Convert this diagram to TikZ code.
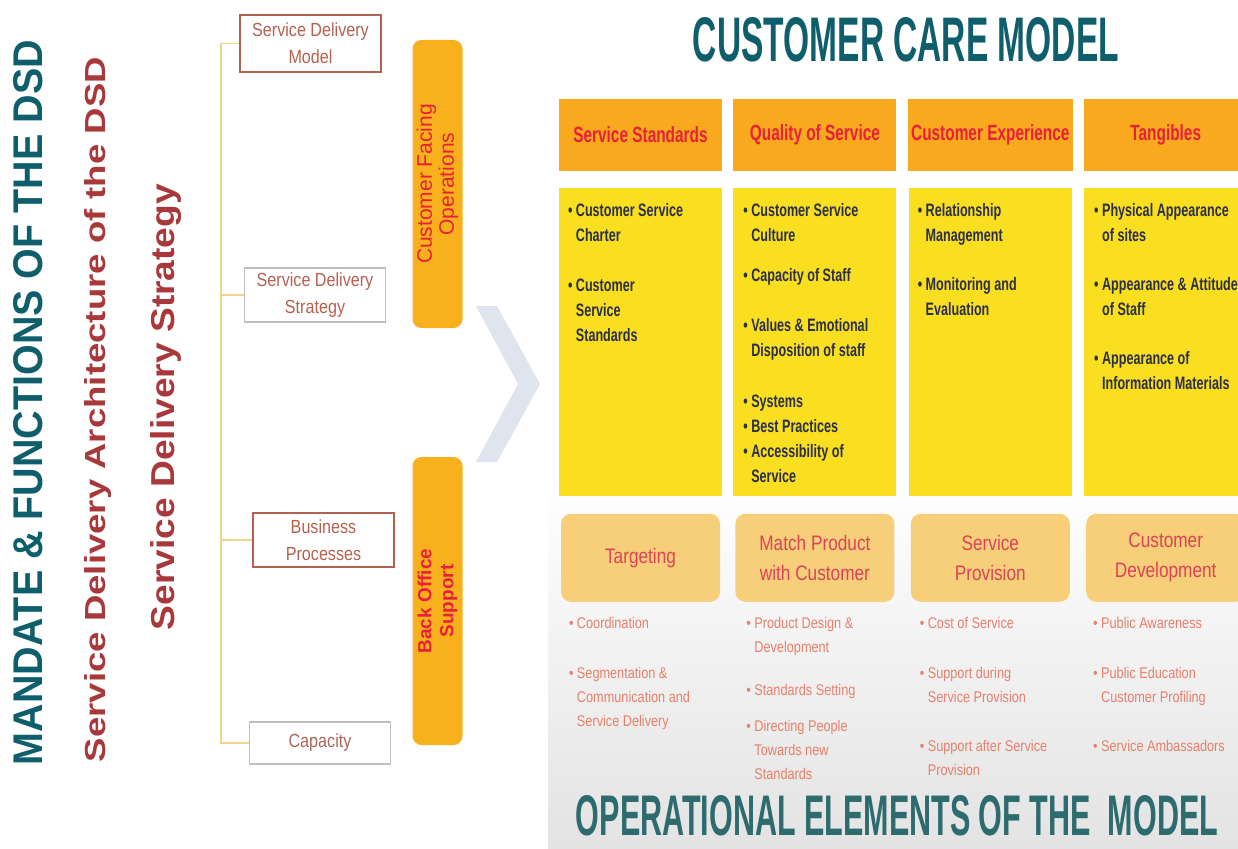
\documentclass[tikz,border=0pt]{standalone}
\usepackage{fontspec}
\setmainfont{Liberation Sans}
\newfontfamily\narrowfont[FakeStretch=0.7]{Liberation Sans}
\newfontfamily\opfont[FakeStretch=0.82]{Liberation Sans}
\newfontfamily\boxfont[FakeStretch=0.85]{Liberation Sans}
\usetikzlibrary{positioning}
\definecolor{titleteal}{HTML}{0F5E6B}
\definecolor{opteal}{HTML}{2E6B6E}
\definecolor{archred}{HTML}{A8383A}
\definecolor{hdorange}{HTML}{F8A91E}
\definecolor{bodyyellow}{HTML}{F9DF20}
\definecolor{opsand}{HTML}{F7CE79}
\definecolor{hdred}{HTML}{E8203A}
\definecolor{opred}{HTML}{DC4358}
\definecolor{opsalmon}{HTML}{E8806A}
\definecolor{itemnavy}{HTML}{2B2F4A}
\definecolor{sdbrown}{HTML}{B5614F}
\definecolor{barorange}{HTML}{F8B01C}
\definecolor{treeyellow}{HTML}{EFD58A}
\definecolor{chevgray}{HTML}{DFE4EE}
\newcommand{\bl}{\textbullet\ }
\newcommand{\ind}{\hphantom{\textbullet\ }}

\begin{document}
\begin{tikzpicture}[x=1pt, y=-1pt,
    node distance=17pt and 11pt,
    hdbox/.style={rectangle, fill=hdorange, minimum width=163pt, minimum height=72pt,
                  text=hdred, font=\narrowfont\bfseries\fontsize{22}{24}\selectfont},
    bodybox/.style={rectangle, fill=bodyyellow, minimum width=163pt, minimum height=308pt},
    opbox/.style={rectangle, rounded corners=10pt, fill=opsand, minimum width=159pt,
                  minimum height=88pt, text=opred, align=center,
                  font=\opfont\fontsize{21}{30}\selectfont},
    items/.style={anchor=north west, inner sep=0pt, align=left, text=itemnavy,
                  font=\narrowfont\bfseries\fontsize{18}{25}\selectfont},
    opitems/.style={anchor=north west, inner sep=0pt, align=left, text=opsalmon,
                  font=\opfont\fontsize{15.5}{24}\selectfont},
    sdbox/.style={rectangle, draw=sdbrown, line width=1.2pt, fill=white, text=sdbrown,
                  align=center, minimum width=141pt, inner sep=2pt,
                  font=\boxfont\fontsize{19}{27}\selectfont},
    bar/.style={rectangle, rounded corners=9pt, fill=barorange, minimum width=288pt,
                minimum height=50pt, text=hdred, align=center, rotate=90},
    treeline/.style={treeyellow, line width=1.5pt}
]
    \useasboundingbox (0,0) rectangle (1238,848);
    \fill[white] (0,0) rectangle (1238,848);
    \shade[top color=white, bottom color=gray!22] (548,480) rectangle (1238,848);

    % side titles
    \node[rotate=90, inner sep=0pt, text=titleteal] (mandate) at (28.5,402.5)
        {\resizebox{725pt}{29pt}{\bfseries MANDATE \& FUNCTIONS OF THE DSD}};
    \node[rotate=90, inner sep=0pt, text=archred] (sdarch) at (98.5,409.5)
        {\resizebox*{705pt}{27pt}{\bfseries Service Delivery Architecture of the DSD}};
    \node[rotate=90, inner sep=0pt, text=archred] (sdstrat) at (166.5,407)
        {\resizebox*{446pt}{31pt}{\bfseries Service Delivery Strategy}};

    % delivery tree
    \node[sdbox, minimum height=57pt] (sdm) at (310.5,43.5) {Service Delivery\\Model};
    \node[sdbox, draw=gray!50, minimum height=54pt] (sds) at (315,295) {Service Delivery\\Strategy};
    \node[sdbox, minimum height=54pt] (bp) at (323.5,540) {Business\\Processes};
    \node[sdbox, draw=gray!50, minimum height=42pt, text=sdbrown!80!gray] (cap) at (320,743) {Capacity};
    \coordinate (spine) at (221,0);
    \draw[treeline] (sdm.west) -- (sdm.west -| spine) -- (cap.west -| spine) -- (cap.west);
    \draw[treeline] (sds.west -| spine) -- (sds.west);
    \draw[treeline] (bp.west -| spine) -- (bp.west);

    \node[bar, font=\fontsize{21}{22}\selectfont] (cfo) at (437.5,184) {Customer Facing\\Operations};
    \node[bar, font=\bfseries\fontsize{19}{22}\selectfont] (bos) at (437.5,601) {Back Office\\Support};

    % chevron
    \fill[chevgray] (476,306) -- (497,306) -- (540,384) -- (497,462) -- (476,462) -- (518,384) -- cycle;

    \node[inner sep=0pt, text=titleteal] (cctitle) at (906,40)
        {\resizebox{426pt}{44pt}{\bfseries CUSTOMER CARE MODEL}};

    % model columns
    \node[hdbox] (hstd) at (640.5,135) {Service Standards};
    \node[hdbox, right=of hstd] (hqual) {Quality of Service};
    \node[hdbox, right=of hqual] (hexp) {Customer Experience};
    \node[hdbox, right=of hexp] (htang) {Tangibles};

    \node[bodybox, below=of hstd] (bstd) {};
    \node[bodybox, below=of hqual] (bqual) {};
    \node[bodybox, below=of hexp] (bexp) {};
    \node[bodybox, below=of htang] (btang) {};

    \node[items] (istd) at ([xshift=9pt, yshift=-15pt]bstd.north west)
        {\bl Customer Service\\ \ind Charter\\[25pt]
         \bl Customer\\ \ind Service\\ \ind Standards};
    \node[items] (iqual) at ([xshift=10pt, yshift=-15pt]bqual.north west)
        {\bl Customer Service\\ \ind Culture\\[15pt]
         \bl Capacity of Staff\\[25pt]
         \bl Values \& Emotional\\ \ind Disposition of staff\\[26pt]
         \bl Systems\\ \bl Best Practices\\ \bl Accessibility of\\ \ind Service};
    \node[items] (iexp) at ([xshift=9pt, yshift=-15pt]bexp.north west)
        {\bl Relationship\\ \ind Management\\[24pt]
         \bl Monitoring and\\ \ind Evaluation};
    \node[items] (itang) at ([xshift=10pt, yshift=-15pt]btang.north west)
        {\bl Physical Appearance\\ \ind of sites\\[24pt]
         \bl Appearance \& Attitude\\ \ind of Staff\\[24pt]
         \bl Appearance of\\ \ind Information Materials};

    % operational elements
    \node[opbox, below=of bstd] (otgt) {Targeting};
    \node[opbox, below=of bqual] (omatch) {Match Product\\with Customer};
    \node[opbox, below=of bexp] (oprov) {Service\\Provision};
    \node[opbox, below=of btang] (odev) {Customer\\Development};

    \node[opitems] (ptgt) at ([xshift=8pt, yshift=-15pt]otgt.south west)
        {\bl Coordination\\[26pt]
         \bl Segmentation \&\\ \ind Communication and\\ \ind Service Delivery};
    \node[opitems] (pmatch) at ([xshift=11pt, yshift=-15pt]omatch.south west)
        {\bl Product Design \&\\ \ind Development\\[19pt]
         \bl Standards Setting\\[12pt]
         \bl Directing People\\ \ind Towards new\\ \ind Standards};
    \node[opitems] (pprov) at ([xshift=9pt, yshift=-15pt]oprov.south west)
        {\bl Cost of Service\\[26pt]
         \bl Support during\\ \ind Service Provision\\[25pt]
         \bl Support after Service\\ \ind Provision};
    \node[opitems] (pdev) at ([xshift=7pt, yshift=-15pt]odev.south west)
        {\bl Public Awareness\\[26pt]
         \bl Public Education\\ \ind Customer Profiling\\[25pt]
         \bl Service Ambassadors};

    \node[inner sep=0pt, text=opteal] (optitle) at (897,816)
        {\resizebox{642pt}{40pt}{\bfseries OPERATIONAL ELEMENTS OF THE\ \ MODEL}};
\end{tikzpicture}
\end{document}
